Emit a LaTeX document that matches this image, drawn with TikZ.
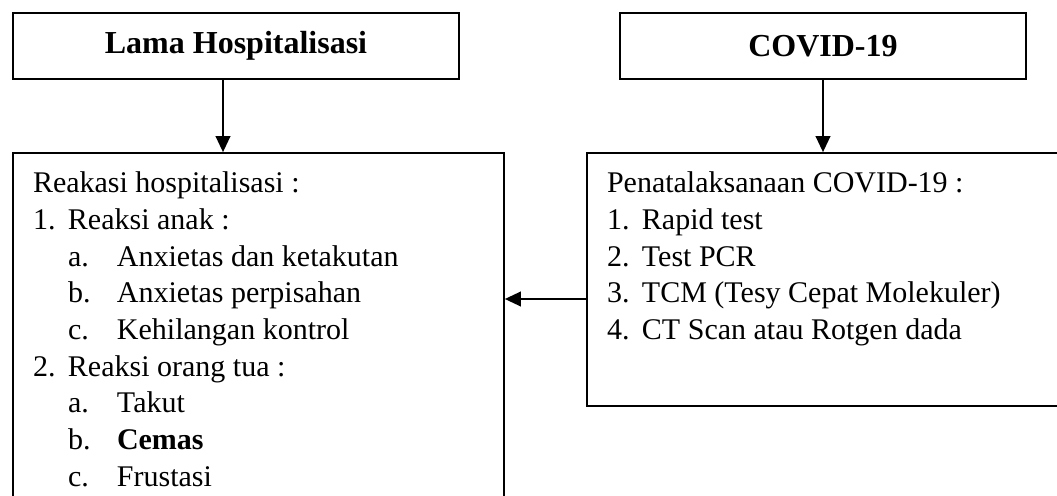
\documentclass[tikz,border=0pt]{standalone}
\usepackage{fontspec}
\setmainfont{Liberation Serif}
\usetikzlibrary{arrows.meta}
\newcommand{\nomor}[1]{\makebox[26.25pt][l]{#1}}
\newcommand{\huruf}[1]{\hspace*{26.25pt}\makebox[36.75pt][l]{#1}}
\begin{document}
\begin{tikzpicture}[x=0.75pt,y=-0.75pt,line width=1.3pt,
		kotak/.style={draw,rectangle,inner sep=0pt},
		judul/.style={kotak,minimum height=49.5pt,font=\fontsize{24}{28}\selectfont\bfseries},
		isi/.style={inner sep=0pt,anchor=north west,align=left,font=\fontsize{22.5}{27.5}\selectfont},
		panah/.style={-{Triangle[length=12pt,width=11pt]}}]
		\useasboundingbox (0,0) rectangle (1057,496);
		\node[judul,minimum width=334.5pt] (lama) at (236,46) {Lama Hospitalisasi};
		\node[judul,minimum width=304.5pt] (covid) at (823,46) {COVID-19};
		\node[kotak,minimum width=368.25pt,minimum height=275.25pt] (reaksi) at (258.5,336.5) {};
		\node[kotak,minimum width=369.75pt,minimum height=189.75pt] (tata) at (833.5,279.5) {};
		\node[isi] (reaksiisi) at ([shift={(20,19)}]reaksi.north west) {Reakasi hospitalisasi :\\
			\nomor{1.}Reaksi anak :\\
			\huruf{a.}Anxietas dan ketakutan\\
			\huruf{b.}Anxietas perpisahan\\
			\huruf{c.}Kehilangan kontrol\\
			\nomor{2.}Reaksi orang tua :\\
			\huruf{a.}Takut\\
			\huruf{b.}\textbf{Cemas}\\
			\huruf{c.}Frustasi};
		\node[isi] (tataisi) at ([shift={(20,19)}]tata.north west) {Penatalaksanaan COVID-19 :\\
			\nomor{1.}Rapid test\\
			\nomor{2.}Test PCR\\
			\nomor{3.}TCM (Tesy Cepat Molekuler)\\
			\nomor{4.}CT Scan atau Rotgen dada};
		\draw[panah] ([shift={(-13,0)}]lama.south) -- ([shift={(-13,0)}]lama.south |- reaksi.north);
		\draw[panah] (covid.south) -- (covid.south |- tata.north);
		\draw[panah] ([shift={(0,19.5)}]tata.west) -- ([shift={(0,19.5)}]tata.west -| reaksi.east);
	\end{tikzpicture}
\end{document}
